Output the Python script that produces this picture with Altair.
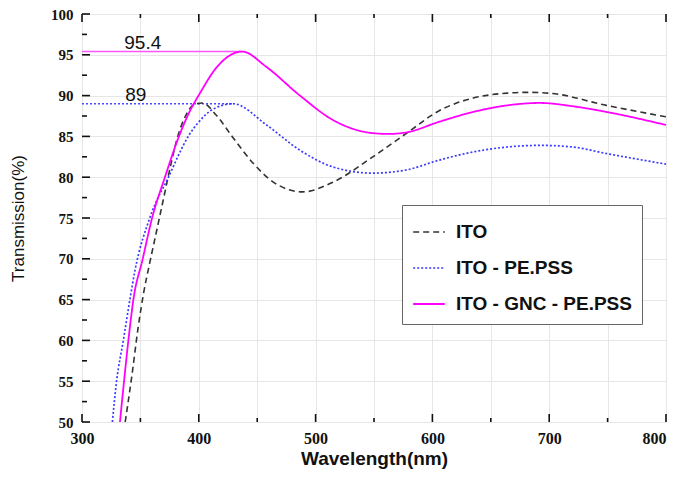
import altair as alt
import pandas as pd

# ---------------- data ----------------
series_names = ["ITO", "ITO - PE.PSS", "ITO - GNC - PE.PSS"]

ito_wl = [337, 343, 348, 353, 358, 364, 370, 376, 382, 389, 396, 403, 415, 429, 446.6, 463.8, 489, 515, 549, 578, 606.5, 635, 664, 681, 700, 749, 800]
ito_t = [50, 56, 61.5, 66, 69.5, 73.5, 77.5, 81.5, 85, 87.6, 88.9, 89.1, 87.6, 84.9, 81.7, 79.4, 78.2, 79.4, 82.5, 85.4, 88.2, 89.7, 90.3, 90.4, 90.3, 88.8, 87.4]

pss_wl = [326, 329.6, 335.4, 341, 345.4, 358, 374, 391, 399, 413, 429.5, 458, 486.6, 515, 549, 578, 606, 635, 664, 692, 720, 749, 800]
pss_t = [50, 55, 60, 65, 68.6, 75, 80, 85, 86.6, 88.4, 89.0, 86.4, 83.3, 81.25, 80.5, 80.9, 82.1, 83.1, 83.7, 83.9, 83.7, 82.9, 81.6]

gnc_wl = [332.5, 336, 339.7, 344, 352, 360, 371, 383, 392, 401, 415.5, 437, 458, 486.6, 515, 549, 563, 578, 606, 635, 664, 692, 720, 749, 800]
gnc_t = [50, 55, 60, 65, 70, 75, 80, 85, 88, 90.3, 93.5, 95.4, 93.5, 90, 87, 85.4, 85.3, 85.5, 86.8, 88, 88.8, 89.1, 88.7, 88, 86.4]

peak_values = [95.4, 89.0]
peak_ends = [437, 429.5]
peak_labels = ["95.4", "89"]
label_x = [352, 346]
label_y = [96.5, 90.1]

x_major = [300, 400, 500, 600, 700, 800]
x_minor = [350, 450, 550, 650, 750]
y_major = [50, 55, 60, 65, 70, 75, 80, 85, 90, 95, 100]
y_minor = [52.5, 57.5, 62.5, 67.5, 72.5, 77.5, 82.5, 87.5, 92.5, 97.5]
x_grid = [300, 350, 400, 450, 500, 550, 600, 650, 700, 750, 800]

# ---------------- tables ----------------
rows = []
for name, wl, t in [("ITO", ito_wl, ito_t), ("ITO - PE.PSS", pss_wl, pss_t), ("ITO - GNC - PE.PSS", gnc_wl, gnc_t)]:
    for w, v in zip(wl, t):
        rows.append({"series": name, "wl": w, "T": v})
curves = pd.DataFrame(rows)

W, H = 584, 408
xs = alt.Scale(domain=[300, 800], nice=False)
ys = alt.Scale(domain=[50, 100], nice=False)

x_axis = alt.Axis(values=x_grid, labelExpr="datum.value % 100 == 0 ? datum.label : ''",
                  ticks=False, domain=False, grid=True, gridColor="#e6e6e6", labelFlush=False,
                  labelAlign=alt.ExprRef(expr="datum.value == 800 ? 'right' : 'center'"),
                  labelFont="Liberation Serif", labelFontWeight="bold", labelFontSize=16,
                  labelColor="#111", labelPadding=8,
                  title="Wavelength(nm)", titleFont="Liberation Sans", titleFontWeight="bold",
                  titleFontSize=19, titleColor="#111", titlePadding=3)
y_axis = alt.Axis(values=y_major, ticks=False, domain=False, grid=True, gridColor="#e6e6e6",
                  labelFlush=False,
                  labelFont="Liberation Serif", labelFontWeight="bold", labelFontSize=15,
                  labelColor="#111", labelPadding=9,
                  title="Transmission(%)", titleFont="Liberation Sans", titleFontWeight="normal",
                  titleFontSize=17, titleColor="#111", titlePadding=23)

base_lines = alt.Chart(curves).mark_line(interpolate="monotone").encode(
    x=alt.X("wl:Q", scale=xs, axis=x_axis),
    y=alt.Y("T:Q", scale=ys, axis=y_axis),
    color=alt.Color("series:N", sort=series_names,
                    scale=alt.Scale(domain=series_names, range=["#333333", "#3a3aff", "#ff00ff"]),
                    legend=alt.Legend(title=None, orient="none", legendX=320, legendY=191,
                                      symbolType="stroke", symbolSize=1000,
                                      labelFont="Liberation Sans", labelFontWeight="bold",
                                      labelFontSize=19, labelColor="#111", labelOffset=10,
                                      labelLimit=400, rowPadding=9, padding=10,
                                      strokeColor="#666", fillColor="white")),
    strokeDash=alt.StrokeDash("series:N", sort=series_names,
                              scale=alt.Scale(domain=series_names, range=[[6, 4], [2, 2], [1, 0]])),
    strokeWidth=alt.StrokeWidth("series:N", sort=series_names,
                                scale=alt.Scale(domain=series_names, range=[1.6, 1.8, 2.8])),
)

peaks = pd.DataFrame({"y": peak_values, "x1": [300, 300], "x2": peak_ends})
peak_mag = alt.Chart(peaks.iloc[[0]]).mark_rule(color="#ff55ff", strokeWidth=1.4).encode(
    x=alt.X("x1:Q", scale=xs), x2="x2:Q", y=alt.Y("y:Q", scale=ys))
peak_blue = alt.Chart(peaks.iloc[[1]]).mark_rule(color="#4a4aff", strokeWidth=1.4, strokeDash=[2, 2]).encode(
    x=alt.X("x1:Q", scale=xs), x2="x2:Q", y=alt.Y("y:Q", scale=ys))

labels = pd.DataFrame({"x": label_x, "y": label_y, "text": peak_labels})
label_layer = alt.Chart(labels).mark_text(font="Liberation Sans", fontSize=19, color="#111",
                                          align="center", baseline="middle").encode(
    x=alt.X("x:Q", scale=xs), y=alt.Y("y:Q", scale=ys), text="text:N")

xmaj = pd.DataFrame({"v": x_major})
xmin = pd.DataFrame({"v": x_minor})
ymaj = pd.DataFrame({"v": y_major})
ymin = pd.DataFrame({"v": y_minor})

tick_style = dict(color="#111", strokeWidth=1.6)
ticks = [
    alt.Chart(xmaj).mark_rule(**tick_style).encode(x=alt.X("v:Q", scale=xs), y=alt.value(H), y2=alt.value(H - 8)),
    alt.Chart(xmin).mark_rule(**tick_style).encode(x=alt.X("v:Q", scale=xs), y=alt.value(H), y2=alt.value(H - 4)),
    alt.Chart(xmaj).mark_rule(**tick_style).encode(x=alt.X("v:Q", scale=xs), y=alt.value(0), y2=alt.value(8)),
    alt.Chart(xmin).mark_rule(**tick_style).encode(x=alt.X("v:Q", scale=xs), y=alt.value(0), y2=alt.value(4)),
    alt.Chart(ymaj).mark_rule(**tick_style).encode(y=alt.Y("v:Q", scale=ys), x=alt.value(0), x2=alt.value(8)),
    alt.Chart(ymin).mark_rule(**tick_style).encode(y=alt.Y("v:Q", scale=ys), x=alt.value(0), x2=alt.value(5)),
]

chart = alt.layer(peak_mag, peak_blue, base_lines, label_layer, *ticks).properties(
    width=W, height=H,
    autosize=alt.AutoSizeParams(type="none"),
    padding={"left": 74, "top": 6, "right": 4, "bottom": 47},
).configure_view(stroke="#111", strokeWidth=2).configure(background="white")

chart.save("out.html", embed_options={"renderer": "svg", "actions": False})
